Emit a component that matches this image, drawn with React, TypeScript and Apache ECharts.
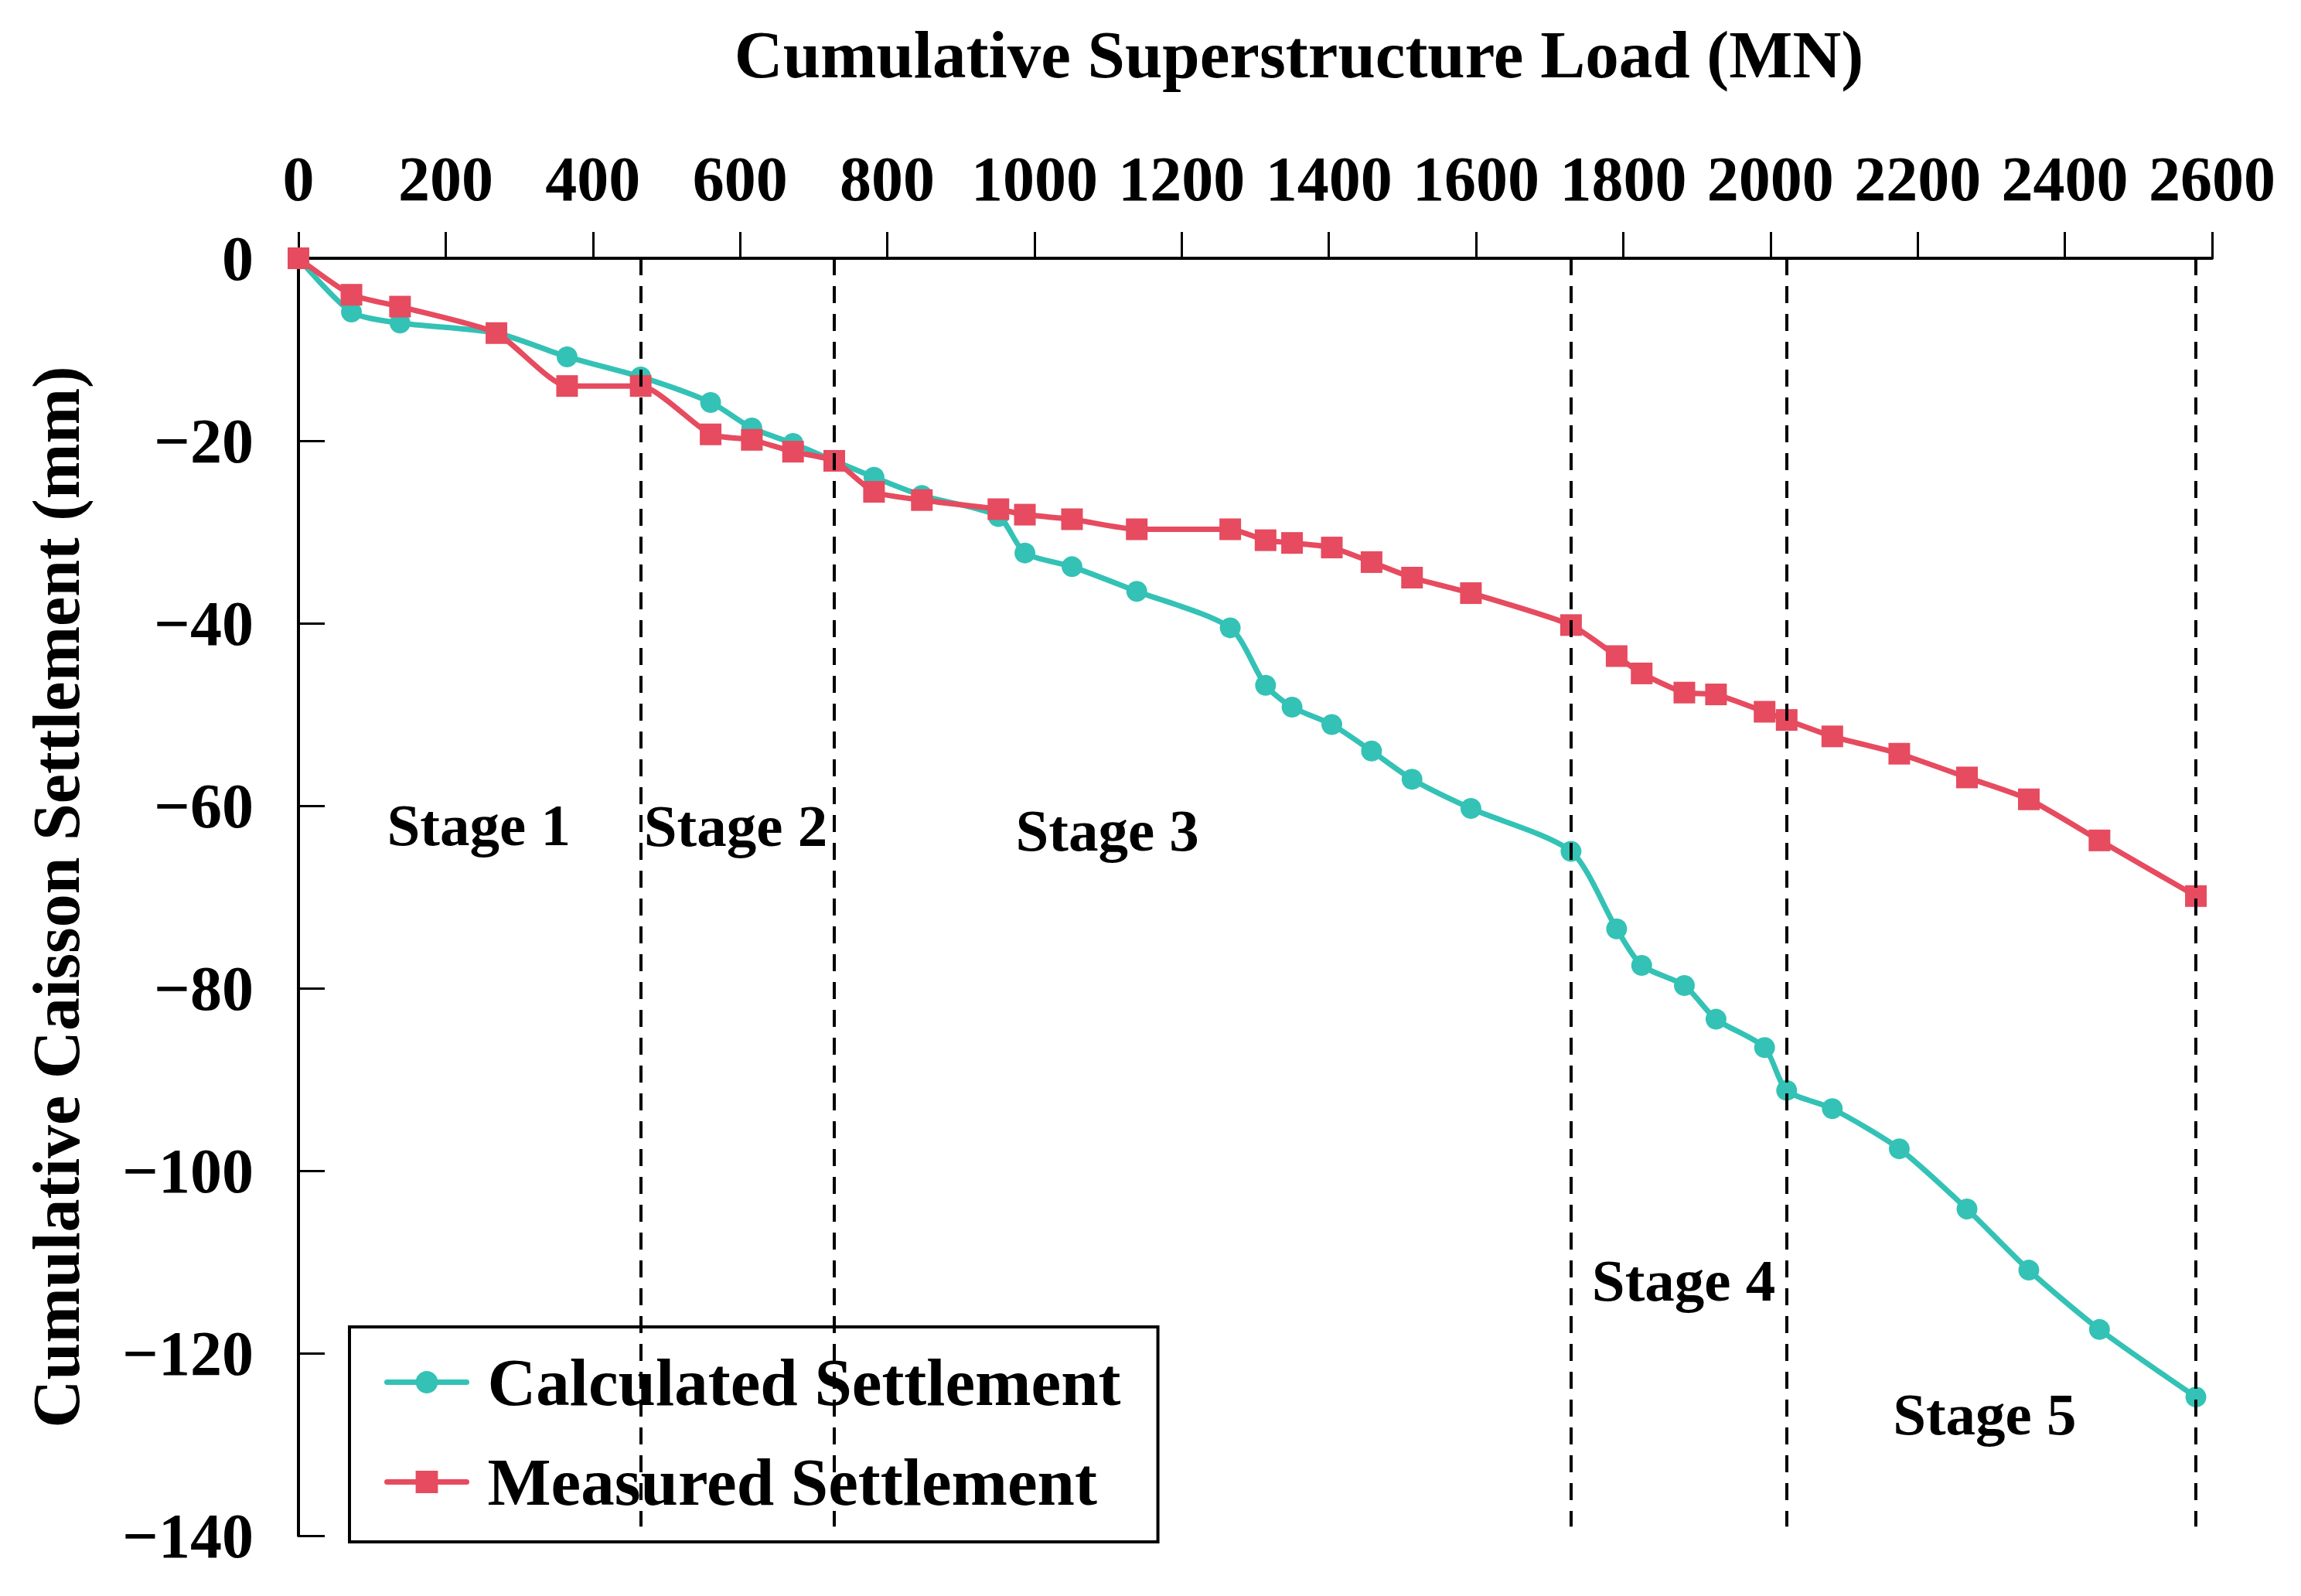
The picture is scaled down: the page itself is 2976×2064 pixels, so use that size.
import { useEffect, useRef } from 'react'
import * as echarts from 'echarts'

// cumulative superstructure load (MN), shared by both series
const loads = [
  0, 72, 138, 269, 365, 465, 560, 616, 672, 728, 782, 847, 951, 987, 1051, 1139,
  1266, 1314, 1350, 1404, 1458, 1513, 1593, 1729, 1791, 1825, 1883, 1926, 1992,
  2022, 2084, 2175, 2267, 2351, 2447, 2578,
]

const calculated = [
  0, -5.9, -7.1, -8.2, -10.8, -13.0, -15.8, -18.6, -20.3, -22.2, -24.0, -26.0,
  -28.3, -32.3, -33.8, -36.5, -40.5, -46.8, -49.2, -51.1, -54.0, -57.1, -60.3,
  -65.0, -73.5, -77.5, -79.7, -83.4, -86.5, -91.2, -93.2, -97.6, -104.2, -110.9,
  -117.4, -124.8,
]

const measured = [
  0, -4.0, -5.3, -8.2, -14.0, -14.0, -19.3, -19.9, -21.2, -22.2, -25.6, -26.5,
  -27.5, -28.1, -28.6, -29.7, -29.7, -30.9, -31.2, -31.7, -33.3, -35.0, -36.7,
  -40.2, -43.6, -45.5, -47.6, -47.8, -49.7, -50.6, -52.4, -54.3, -56.9, -59.3,
  -63.8, -69.9,
]

// stage boundaries (MN)
const stageBounds = [465, 728, 1729, 2022, 2578]

const stageNames = ['Stage 1', 'Stage 2', 'Stage 3', 'Stage 4', 'Stage 5']
const stageX = [245, 594, 1099, 1882, 2291]
const stageY = [-62.1, -62.2, -62.7, -112, -126.7]

const FONT = 'Liberation Serif'
const TEAL = '#33c2b5'
const RED = '#e64b5f'

export default function App() {
  const chartRef = useRef<HTMLDivElement>(null)

  useEffect(() => {
    if (!chartRef.current) return
    const chart = echarts.init(chartRef.current, undefined, { renderer: 'svg' })

    chart.setOption({
      animation: false,
      backgroundColor: '#ffffff',
      textStyle: { fontFamily: FONT, fontWeight: 'bold', color: '#000' },
      grid: { left: 386, right: 115, top: 334, bottom: 78 },
      graphic: [
        {
          type: 'text',
          x: 1680,
          y: 70,
          style: {
            text: 'Cumulative Superstructure Load (MN)',
            font: `bold 87px "${FONT}"`,
            fill: '#000',
            textAlign: 'center',
            textVerticalAlign: 'middle',
          },
        },
      ],
      legend: {
        orient: 'vertical',
        left: 452,
        top: 1716,
        data: ['Calculated Settlement', 'Measured Settlement'],
        itemWidth: 103,
        itemHeight: 36,
        itemGap: 42,
        padding: [28, 48, 34, 45],
        borderColor: '#000',
        borderWidth: 4,
        borderRadius: 0,
        backgroundColor: '#ffffff',
        lineStyle: { width: 7, cap: 'round' },
        textStyle: {
          fontFamily: FONT,
          fontWeight: 'bold',
          fontSize: 87,
          color: '#000',
          padding: [0, 0, 0, 22],
        },
      },
      xAxis: {
        type: 'value',
        position: 'top',
        min: 0,
        max: 2600,
        interval: 200,
        axisLine: { show: true, onZero: false, lineStyle: { color: '#000', width: 4 } },
        axisTick: { show: true, inside: false, length: 34, lineStyle: { color: '#000', width: 3 } },
        axisLabel: {
          fontFamily: FONT,
          fontWeight: 'bold',
          fontSize: 82,
          color: '#000',
          margin: 62,
          formatter: (v: number) => String(v),
        },
        splitLine: { show: false },
      },
      yAxis: {
        type: 'value',
        min: -140,
        max: 0,
        interval: 20,
        name: 'Cumulative Caisson Settlement (mm)',
        nameLocation: 'middle',
        nameGap: 270,
        nameTextStyle: { fontFamily: FONT, fontWeight: 'bold', fontSize: 86, color: '#000' },
        axisLine: { show: true, onZero: false, lineStyle: { color: '#000', width: 4 } },
        axisTick: { show: true, inside: true, length: 34, lineStyle: { color: '#000', width: 3 } },
        axisLabel: {
          fontFamily: FONT,
          fontWeight: 'bold',
          fontSize: 82,
          color: '#000',
          margin: 58,
          formatter: (v: number) => (v < 0 ? '\u2212' + Math.abs(v) : String(v)),
        },
        splitLine: { show: false },
      },
      series: [
        {
          name: 'Calculated Settlement',
          type: 'line',
          data: loads.map((x, i) => [x, calculated[i]]),
          smooth: 0.25,
          symbol: 'circle',
          symbolSize: 27,
          lineStyle: { color: TEAL, width: 7 },
          itemStyle: { color: TEAL },
          z: 3,
          markLine: {
            silent: true,
            symbol: 'none',
            label: { show: false },
            lineStyle: { color: '#000', width: 4, type: [22, 14] },
            data: stageBounds.map(x => [{ coord: [x, 0] }, { coord: [x, -139] }]),
          },
        },
        {
          name: 'Measured Settlement',
          type: 'line',
          data: loads.map((x, i) => [x, measured[i]]),
          smooth: 0.2,
          symbol: 'rect',
          symbolSize: 28,
          lineStyle: { color: RED, width: 7 },
          itemStyle: { color: RED },
          z: 4,
        },
        {
          name: 'stages',
          type: 'scatter',
          symbolSize: 0,
          silent: true,
          itemStyle: { color: '#000', opacity: 1 },
          data: stageNames.map((n, i) => ({ name: n, value: [stageX[i], stageY[i]] })),
          label: {
            show: true,
            position: 'inside',
            formatter: '{b}',
            fontFamily: FONT,
            fontWeight: 'bold',
            fontSize: 77,
            color: '#000',
            opacity: 1,
            textBorderWidth: 0,
          },
        },
      ],
    })

    return () => {
      chart.dispose()
    }
  }, [])

  return (
    <div
      ref={chartRef}
      style={{ position: 'fixed', left: 0, top: 0, width: 2976, height: 2064 }}
    />
  )
}
